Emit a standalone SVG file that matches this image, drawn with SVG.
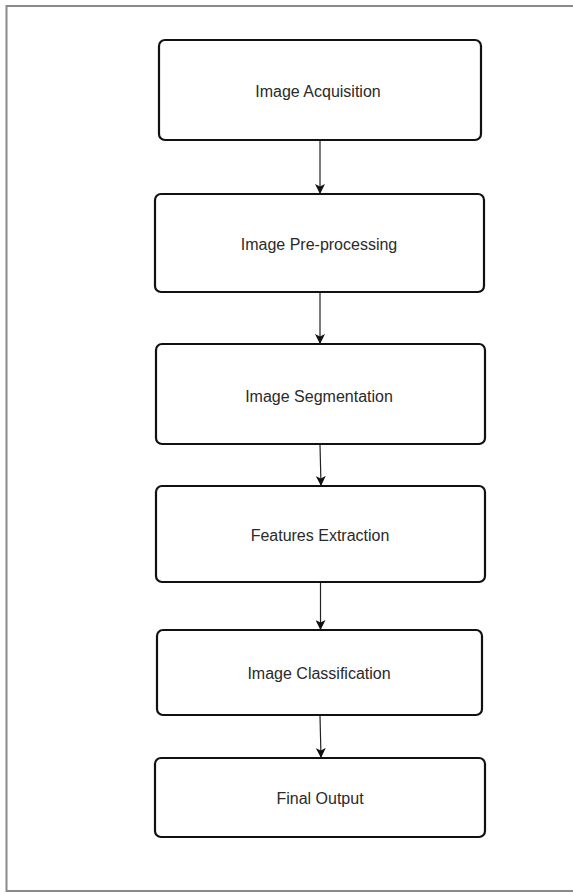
<svg xmlns="http://www.w3.org/2000/svg" width="573" height="893" viewBox="0 0 573 893">
<style>
.frame{fill:none;stroke:#8a8a8a;stroke-width:2}
.box{fill:#fff;stroke:#111;stroke-width:2.2}
.lbl{font-family:"Liberation Sans",Arial,sans-serif;font-size:16px;fill:#2a2a2a;text-anchor:middle}
.edge{stroke:#222;stroke-width:1.2;fill:none}
</style>
<defs>
<marker id="ah" viewBox="0 0 10 10" refX="9" refY="5" markerWidth="10" markerHeight="10" markerUnits="userSpaceOnUse" orient="auto">
<path d="M0,0 L10,5 L0,10 L2.5,5 Z" fill="#111"/>
</marker>
</defs>
<rect width="573" height="893" fill="#fff"/>
<path class="frame" d="M580,6 H6.5 V891 H580"/>
<g id="connectors">
<line class="edge" x1="320" y1="141" x2="320" y2="193" marker-end="url(#ah)"/>
<line class="edge" x1="320" y1="293" x2="320" y2="343" marker-end="url(#ah)"/>
<line class="edge" x1="320" y1="445" x2="321" y2="485" marker-end="url(#ah)"/>
<line class="edge" x1="320.5" y1="583" x2="320.5" y2="629" marker-end="url(#ah)"/>
<line class="edge" x1="320" y1="716" x2="321" y2="757" marker-end="url(#ah)"/>
</g>
<g id="n1"><rect class="box" x="159" y="40" width="322" height="100" rx="6"/><text class="lbl" x="318" y="97">Image Acquisition</text></g>
<g id="n2"><rect class="box" x="155" y="194" width="329" height="98" rx="6"/><text class="lbl" x="319" y="250">Image Pre-processing</text></g>
<g id="n3"><rect class="box" x="156" y="344" width="329" height="100" rx="6"/><text class="lbl" x="319" y="402">Image Segmentation</text></g>
<g id="n4"><rect class="box" x="156" y="486" width="329" height="96" rx="6"/><text class="lbl" x="320" y="541">Features Extraction</text></g>
<g id="n5"><rect class="box" x="157" y="630" width="325" height="85" rx="6"/><text class="lbl" x="319" y="679">Image Classification</text></g>
<g id="n6"><rect class="box" x="155" y="758" width="330" height="79" rx="6"/><text class="lbl" x="320" y="804">Final Output</text></g>
</svg>
